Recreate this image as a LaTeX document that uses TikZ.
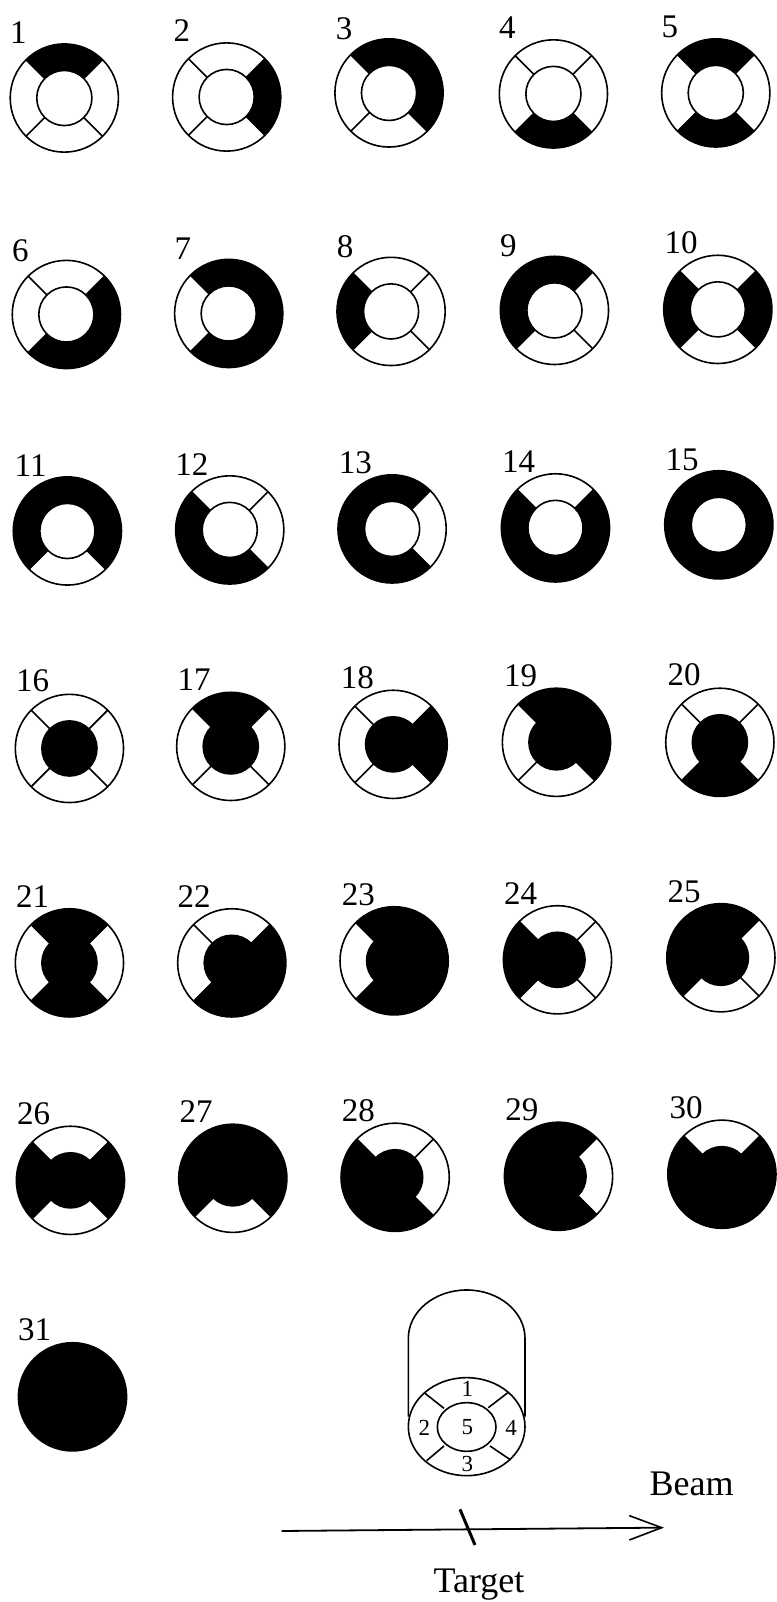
\documentclass[tikz,border=0pt]{standalone}
\usepackage{fontspec}
\setmainfont{Liberation Serif}
\tikzset{
 ringline/.style={line width=1.6pt,black},
 numlabel/.style={inner sep=0pt,font=\fontsize{33}{33}\selectfont},
 seglabel/.style={inner sep=0pt,font=\fontsize{23}{23}\selectfont},
 biglabel/.style={inner sep=0pt,font=\fontsize{36}{36}\selectfont},
}
\begin{document}
\begin{tikzpicture}[x=1pt,y=1pt]
\useasboundingbox (0,0) rectangle (776,-1602);
\fill[white] (0,0) rectangle (776,-1602);
\begin{scope}[x=1.02105pt,y=1.02105pt]
\foreach \n/\cx/\cy/\lx/\ly in {
 1/63/96/18/32, 2/222/95/178/30, 3/381/91/337/28, 4/542/92/497/27, 5/701/91/656/26,
 6/65/308/20/246, 7/224/307/179/244, 8/383/305/338/242, 9/543/304/498/241, 10/703/303/667/238,
 11/66/520/30/456, 12/225/519/188/455, 13/384/518/348/453, 14/544/517/508/452, 15/704/514/668/450,
 16/68/733/32/667, 17/226/731/190/666, 18/385/729/350/664, 19/545/727/510/662, 20/705/727/670/661,
 21/68/943/32/878, 22/227/943/190/878, 23/386/941/351/876, 24/546/940/510/875, 25/706/938/670/873,
 26/69/1156/33/1091, 27/228/1154/192/1089, 28/387/1153/351/1088, 29/547/1152/511/1087, 30/707/1150/672/1085,
 31/71/1368/34/1302}{
 \node[numlabel] (num\n) at (\lx,-\ly) {\n};
 \begin{scope}[shift={(\cx,-\cy)}]
  % outer segments: top, right, bottom, left are bits 1, 2, 4, 8; the centre is bit 16
  \foreach \k/\a in {0/90,1/0,2/-90,3/-180}{
   \pgfmathtruncatemacro{\on}{mod(floor(\n/pow(2,\k)),2)}
   \ifnum\on=1
    \fill[black] (\a-45:27) -- (\a-45:53) arc[start angle=\a-45,end angle=\a+45,radius=53] -- (\a+45:27) arc[start angle=\a+45,end angle=\a-45,radius=27] -- cycle;
   \fi
  }
  \pgfmathtruncatemacro{\mid}{mod(floor(\n/16),2)}
  \ifnum\mid=1 \fill[black] (0,0) circle (27); \fi
  \foreach \s in {45,135,225,315}{\draw[ringline] (\s:27) -- (\s:53);}
  \draw[ringline] (0,0) circle (53);
  \draw[ringline] (0,0) circle (27);
 \end{scope}
}
\end{scope}
% key at the bottom: coordinates are three times the reference pixels
\begin{scope}[x=0.33333pt,y=-0.33333pt,shift={(780,3690)}]
 \draw[ringline] (445,560) -- (445,325) arc[start angle=180,end angle=360,x radius=175,y radius=145] -- (795,560);
 \draw[ringline] (620,590) ellipse (175 and 147);
 \draw[ringline] (620,591) ellipse (88 and 73);
 \draw[ringline] (495,490) -- (552,535);
 \draw[ringline] (745,487) -- (685,533);
 \draw[ringline] (500,692) -- (552,648);
 \draw[ringline] (752,690) -- (690,648);
 \node[seglabel] (s1) at (622,477) {1};
 \node[seglabel] (s2) at (493,595) {2};
 \node[seglabel] (s3) at (622,702) {3};
 \node[seglabel] (s4) at (753,595) {4};
 \node[seglabel] (s5) at (622,590) {5};
 \node[biglabel] (beam) at (1295,763) {Beam};
 \node[biglabel] (target) at (657,1063) {Target};
 \coordinate (axisL) at (65,903);
 \coordinate (axisR) at (1205,893);
 \coordinate (headA) at (1108,857);
 \coordinate (headB) at (1108,930);
 \coordinate (tickA) at (600,838);
 \coordinate (tickB) at (645,945);
 \draw[line width=1.8pt] (axisL) -- (axisR);
 \draw[line width=1.6pt] (headA) -- (axisR) -- (headB);
 \draw[line width=3pt] (tickA) -- (tickB);
\end{scope}
\end{tikzpicture}
\end{document}
